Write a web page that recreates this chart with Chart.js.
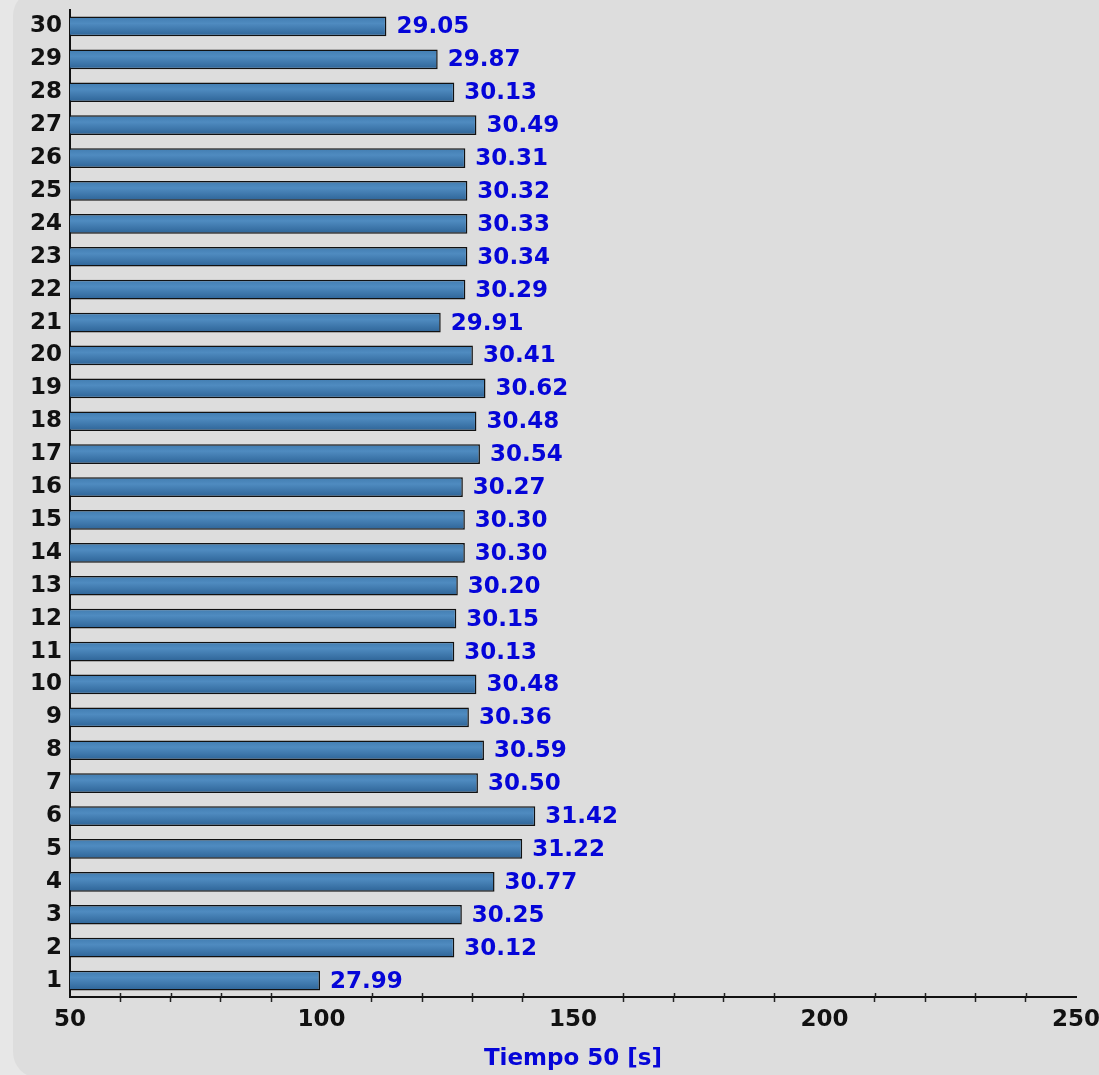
<!DOCTYPE html>
<html>
<head>
<meta charset="utf-8">
<script src="https://cdn.jsdelivr.net/npm/chart.js@4.4.1/dist/chart.umd.min.js"></script>
<style>
  html, body { margin: 0; padding: 0; background: #e7e7e7; }
  #wrap { width: 1099px; height: 1075px; position: relative; }
</style>
</head>
<body>
<div id="wrap"><canvas id="chart"></canvas></div>
<script>
// categories (runs 1..30)
const runs = ["1","2","3","4","5","6","7","8","9","10","11","12","13","14","15",
              "16","17","18","19","20","21","22","23","24","25","26","27","28","29","30"];

// bar lengths
const barValues = [99.7, 126.4, 127.9, 134.4, 139.9, 142.5, 131.1, 132.3, 129.3, 130.8,
                   126.4, 126.8, 127.1, 128.5, 128.5, 128.1, 131.5, 130.8, 132.6, 130.1,
                   123.7, 128.6, 129.0, 129.0, 129.0, 128.6, 130.8, 126.4, 123.1, 112.9];

// printed time next to each bar
const timeLabels = ["27.99","30.12","30.25","30.77","31.22","31.42","30.50","30.59","30.36","30.48",
                    "30.13","30.15","30.20","30.30","30.30","30.27","30.54","30.48","30.62","30.41",
                    "29.91","30.29","30.34","30.33","30.32","30.31","30.49","30.13","29.87","29.05"];

const xTicks = [50, 100, 150, 200, 250];

const FONT = "'DejaVu Sans', sans-serif";

const panelBg = {
    id: "panelBg",
    beforeDraw(chart) {
        const c = chart.ctx;
        c.save();
        c.fillStyle = "#dddddd";
        c.beginPath();
        c.roundRect(13, -10, 1200, 1088, 26);
        c.fill();
        c.restore();
    }
};

const valueLabels = {
    id: "valueLabels",
    afterDatasetsDraw(chart) {
        const c = chart.ctx;
        const meta = chart.getDatasetMeta(0);
        c.save();
        c.font = "bold 23px " + FONT;
        c.fillStyle = "#0505d8";
        c.textAlign = "left";
        c.textBaseline = "middle";
        meta.data.forEach((bar, i) => {
            c.fillText(timeLabels[i], bar.x + 10, bar.y + 1);
        });
        c.restore();
    }
};

// little tick stubs that cross the x axis line (upper half)
const crossTicks = {
    id: "crossTicks",
    afterDraw(chart) {
        const x = chart.scales.x;
        const c = chart.ctx;
        c.save();
        c.strokeStyle = "#222";
        c.lineWidth = 1.5;
        for (let v = 60; v < 250; v += 10) {
            if (v % 50 === 0) continue;
            const px = Math.round(x.getPixelForValue(v)) + 0.5;
            c.beginPath();
            c.moveTo(px, x.top - 4);
            c.lineTo(px, x.top);
            c.stroke();
        }
        c.restore();
    }
};

function barGradient(ctx) {
    const y = ctx.chart.scales.y;
    if (!y || ctx.type !== "data") return "#3f7aae";
    const cy = y.getPixelForValue(ctx.dataIndex);
    if (!isFinite(cy)) return "#3f7aae";
    const g = ctx.chart.ctx.createLinearGradient(0, cy - 10, 0, cy + 10);
    g.addColorStop(0, "#417cb0");
    g.addColorStop(0.35, "#4f8bc0");
    g.addColorStop(1, "#2d6396");
    return g;
}

new Chart(document.getElementById("chart"), {
    type: "bar",
    data: {
        labels: runs,
        datasets: [{
            data: barValues,
            backgroundColor: barGradient,
            borderColor: "#111111",
            borderWidth: 1.5,
            borderSkipped: false,
            barPercentage: 0.6,
            categoryPercentage: 1.0
        }]
    },
    options: {
        indexAxis: "y",
        responsive: true,
        maintainAspectRatio: false,
        animation: false,
        layout: { padding: { left: 13, right: 23, top: 10, bottom: 2 } },
        plugins: {
            legend: { display: false },
            tooltip: { enabled: false }
        },
        scales: {
            y: {
                reverse: true,
                grid: { display: false, drawTicks: false },
                border: { display: true, color: "#111", width: 2 },
                ticks: {
                    color: "#111",
                    padding: 8,
                    font: { family: FONT, size: 23, weight: "bold" }
                },
                afterFit: s => { s.width = 57; s.paddingTop = 0; s.paddingBottom = 0; }
            },
            x: {
                min: 50,
                max: 250,
                grid: {
                    display: true,
                    drawOnChartArea: false,
                    tickLength: 5,
                    tickWidth: 1.5,
                    tickColor: ctx => (ctx.tick && ctx.tick.value % 50 === 0) ? "rgba(0,0,0,0)" : "#222"
                },
                border: { display: true, color: "#111", width: 2 },
                ticks: {
                    stepSize: 10,
                    autoSkip: false,
                    maxRotation: 0,
                    padding: 4,
                    color: "#111",
                    font: { family: FONT, size: 23, weight: "bold" },
                    callback: v => xTicks.includes(v) ? String(v) : ""
                },
                title: {
                    display: true,
                    text: "Tiempo 50 [s]",
                    color: "#0505d8",
                    padding: { top: 0, bottom: 0 },
                    font: { family: FONT, size: 23, weight: "bold" }
                },
                afterFit: s => { s.height = 76; s.paddingLeft = 0; s.paddingRight = 0; }
            }
        }
    },
    plugins: [panelBg, valueLabels, crossTicks]
});
</script>
</body>
</html>
